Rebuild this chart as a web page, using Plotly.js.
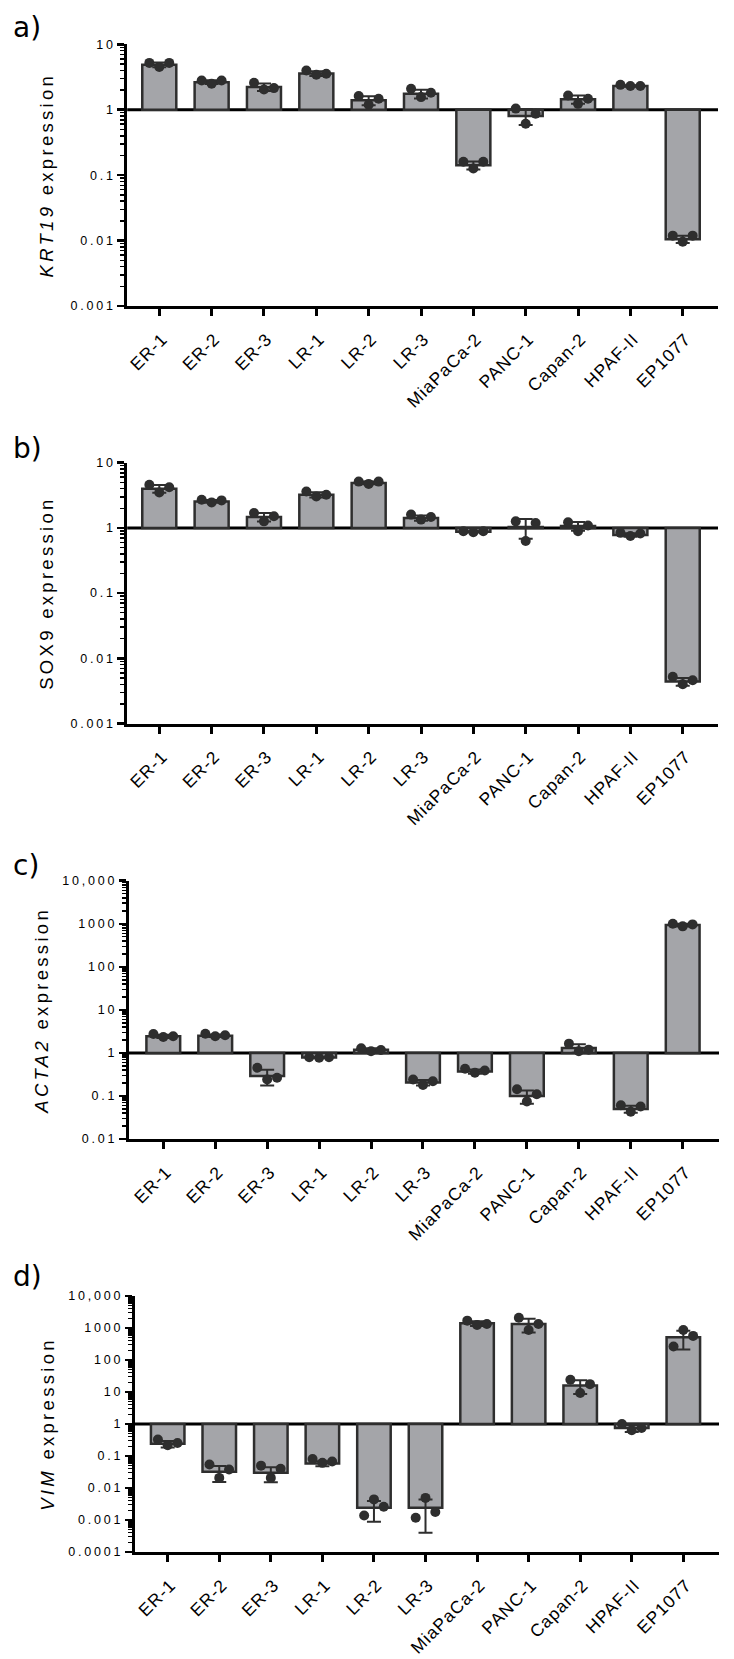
<!DOCTYPE html>
<html>
<head>
<meta charset="utf-8">
<script src="https://cdn.plot.ly/plotly-3.0.1.min.js"></script>
<style>
html, body { margin: 0; padding: 0; background: #ffffff; }
#chart { width: 734px; height: 1659px; }
</style>
</head>
<body>
<div id="chart"></div>
<script>
// ---------------- data ----------------
const categories = ['ER-1', 'ER-2', 'ER-3', 'LR-1', 'LR-2', 'LR-3', 'MiaPaCa-2', 'PANC-1', 'Capan-2', 'HPAF-II', 'EP1077'];

// a) KRT19 expression (bar = mean, rep = three replicates: left / centre / right dot)
const krt19Mean = [4.85, 2.64, 2.22, 3.57, 1.39, 1.75, 0.142, 0.80, 1.44, 2.30, 0.0105];
const krt19Rep1 = [5.2, 2.8, 2.58, 3.97, 1.62, 2.09, 0.16, 1.04, 1.65, 2.40, 0.0119];
const krt19Rep2 = [4.5, 2.5, 2.04, 3.42, 1.19, 1.56, 0.126, 0.61, 1.23, 2.30, 0.0096];
const krt19Rep3 = [5.2, 2.8, 2.14, 3.54, 1.47, 1.82, 0.16, 0.87, 1.47, 2.30, 0.0119];

// b) SOX9 expression
const sox9Mean = [4.0, 2.55, 1.47, 3.22, 4.9, 1.42, 0.87, 1.03, 1.07, 0.78, 0.0044];
const sox9Rep1 = [4.57, 2.70, 1.69, 3.62, 5.13, 1.60, 0.89, 1.26, 1.22, 0.84, 0.0052];
const sox9Rep2 = [3.49, 2.46, 1.26, 3.03, 4.73, 1.34, 0.86, 0.63, 0.89, 0.75, 0.0040];
const sox9Rep3 = [4.21, 2.64, 1.51, 3.22, 5.13, 1.47, 0.89, 1.19, 1.09, 0.82, 0.0046];

// c) ACTA2 expression
const acta2Mean = [2.43, 2.51, 0.29, 0.78, 1.18, 0.205, 0.37, 0.10, 1.3, 0.05, 930];
const acta2Rep1 = [2.74, 2.79, 0.45, 0.79, 1.28, 0.24, 0.43, 0.143, 1.64, 0.061, 1000];
const acta2Rep2 = [2.34, 2.43, 0.24, 0.77, 1.09, 0.18, 0.345, 0.074, 1.09, 0.043, 870];
const acta2Rep3 = [2.43, 2.56, 0.265, 0.79, 1.17, 0.22, 0.39, 0.11, 1.19, 0.057, 966];

// d) VIM expression
const vimMean = [0.24, 0.032, 0.030, 0.058, 0.0024, 0.0024, 1400, 1340, 16, 0.75, 515];
const vimRep1 = [0.325, 0.054, 0.050, 0.081, 0.00139, 0.00118, 1700, 2100, 24, 1.0, 264];
const vimRep2 = [0.216, 0.0207, 0.0207, 0.061, 0.0044, 0.0049, 1250, 870, 9.3, 0.635, 871];
const vimRep3 = [0.256, 0.0377, 0.0396, 0.067, 0.0026, 0.00177, 1340, 1340, 17.6, 0.75, 566];

// tick labels
const tickValsA = [0.001, 0.01, 0.1, 1, 10];
const tickTextA = ['0.001', '0.01', '0.1', '1', '10'];
const tickValsC = [0.01, 0.1, 1, 10, 100, 1000, 10000];
const tickTextC = ['0.01', '0.1', '1', '10', '100', '1000', '10,000'];
const tickValsD = [0.0001, 0.001, 0.01, 0.1, 1, 10, 100, 1000, 10000];
const tickTextD = ['0.0001', '0.001', '0.01', '0.1', '1', '10', '100', '1000', '10,000'];

const panelLetters = ['a)', 'b)', 'c)', 'd)'];
const yTitles = ['<i>KRT19</i> expression', 'SOX9 expression', '<i>ACTA2</i> expression', '<i>VIM</i> expression'];

// ---------------- styling ----------------
const FONT = 'Liberation Sans';
const BAR_FILL = '#a4a5a9';
const DARK = '#2e2e2e';
const JITTER = 0.19;
const idx = categories.map((c, i) => i);

function sd(a, b, c) {
  const m = (a + b + c) / 3;
  return Math.sqrt(((a - m) ** 2 + (b - m) ** 2 + (c - m) ** 2) / 2);
}

function panelTraces(mean, r1, r2, r3, xa, ya) {
  const errs = mean.map((m, i) => sd(r1[i], r2[i], r3[i]));
  const bars = {
    type: 'bar', x: idx, y: mean.map(v => v - 1), base: 1, width: 0.65,
    marker: { color: BAR_FILL, line: { color: DARK, width: 2.5 } },
    xaxis: xa, yaxis: ya, hoverinfo: 'skip', showlegend: false
  };
  const eb = {
    type: 'scatter', mode: 'markers', x: idx, y: mean,
    marker: { size: 1, color: 'rgba(0,0,0,0)' },
    error_y: { type: 'data', array: errs, visible: true, color: DARK, thickness: 2, width: 7 },
    xaxis: xa, yaxis: ya, hoverinfo: 'skip', showlegend: false
  };
  const px = [], py = [];
  [r1, r2, r3].forEach((rep, k) => {
    rep.forEach((v, i) => { px.push(i + (k - 1) * JITTER); py.push(v); });
  });
  const pts = {
    type: 'scatter', mode: 'markers', x: px, y: py,
    marker: { size: 10, color: DARK },
    xaxis: xa, yaxis: ya, hoverinfo: 'skip', showlegend: false
  };
  return [bars, eb, pts];
}

const data = [].concat(
  panelTraces(krt19Mean, krt19Rep1, krt19Rep2, krt19Rep3, 'x', 'y'),
  panelTraces(sox9Mean, sox9Rep1, sox9Rep2, sox9Rep3, 'x2', 'y2'),
  panelTraces(acta2Mean, acta2Rep1, acta2Rep2, acta2Rep3, 'x3', 'y3'),
  panelTraces(vimMean, vimRep1, vimRep2, vimRep3, 'x4', 'y4')
);

const W = 734, H = 1659;
function xAxis(anchor, x0px, x1px, range) {
  return {
    anchor: anchor, domain: [x0px / W, x1px / W], range: range,
    tickmode: 'array', tickvals: idx, ticktext: categories, tickangle: -45,
    ticks: 'outside', ticklen: 7, tickwidth: 3, tickcolor: '#000',
    ticklabelstandoff: 6, ticklabelshift: 3,
    showline: true, linewidth: 3, linecolor: '#000',
    showgrid: false, zeroline: false, fixedrange: true,
    tickfont: { family: FONT, size: 17.5, color: '#000' }
  };
}
function yAxis(anchor, topPx, botPx, range, tv, tt, title) {
  return {
    anchor: anchor, type: 'log', domain: [1 - botPx / H, 1 - topPx / H], range: range,
    tickmode: 'array', tickvals: tv, ticktext: tt,
    ticks: 'outside', ticklen: 7, tickwidth: 2.5, tickcolor: '#000',
    ticklabelstandoff: -1,
    minor: { tickmode: 'linear', tick0: 0, dtick: 'D1', ticks: 'outside', ticklen: 4, tickwidth: 1.5, tickcolor: '#000', showgrid: false },
    showline: true, linewidth: 3, linecolor: '#000',
    showgrid: false, zeroline: false, fixedrange: true,
    tickfont: { family: FONT, size: 12.5, color: '#000' },
    title: { text: title, standoff: 26, font: { family: FONT, size: 18.5, color: '#000' } }
  };
}

function baseline(xa, ya) {
  return { type: 'line', xref: xa + ' domain', x0: 0, x1: 1, yref: ya, y0: 1, y1: 1, layer: 'below', line: { color: '#000', width: 3 } };
}

const letterY = [27, 448, 865, 1276];
const layout = {
  width: W, height: H,
  margin: { l: 0, r: 0, t: 0, b: 0 },
  paper_bgcolor: '#fff', plot_bgcolor: 'rgba(0,0,0,0)',
  showlegend: false,
  font: { family: FONT },
  xaxis: xAxis('y', 127.2, 718, [-0.613, 10.674]),
  xaxis2: xAxis('y2', 127.2, 718, [-0.613, 10.674]),
  xaxis3: xAxis('y3', 128.8, 719, [-0.664, 10.699]),
  xaxis4: xAxis('y4', 134.8, 719, [-0.638, 10.692]),
  yaxis: yAxis('x', 44.3, 306, [-3, 1], tickValsA, tickTextA, yTitles[0]),
  yaxis2: yAxis('x2', 462.7, 723.5, [-3, 1], tickValsA, tickTextA, yTitles[1]),
  yaxis3: yAxis('x3', 880.7, 1139, [-2, 4], tickValsC, tickTextC, yTitles[2]),
  yaxis4: yAxis('x4', 1296, 1552, [-4, 4], tickValsD, tickTextD, yTitles[3]),
  shapes: [baseline('x', 'y'), baseline('x2', 'y2'), baseline('x3', 'y3'), baseline('x4', 'y4')],
  annotations: panelLetters.map((t, i) => ({
    text: t, xref: 'paper', yref: 'paper', x: 11 / W, y: 1 - letterY[i] / H,
    xanchor: 'left', yanchor: 'middle', showarrow: false,
    font: { family: 'DejaVu Sans', size: 28, color: '#000' }
  }))
};

function spaceText(selector, px) {
  document.querySelectorAll(selector).forEach(el => {
    el.style.letterSpacing = px;
    el.setAttribute('letter-spacing', px);
  });
}

Plotly.newPlot('chart', data, layout, { displayModeBar: false, staticPlot: true }).then(() => {
  spaceText('g.ytick text, g.y2tick text, g.y3tick text, g.y4tick text', '2.8px');
  spaceText('g.xtick text, g.x2tick text, g.x3tick text, g.x4tick text', '1px');
  spaceText('text.ytitle, text.y2title, text.y3title, text.y4title', '3.3px');
});
</script>
</body>
</html>
